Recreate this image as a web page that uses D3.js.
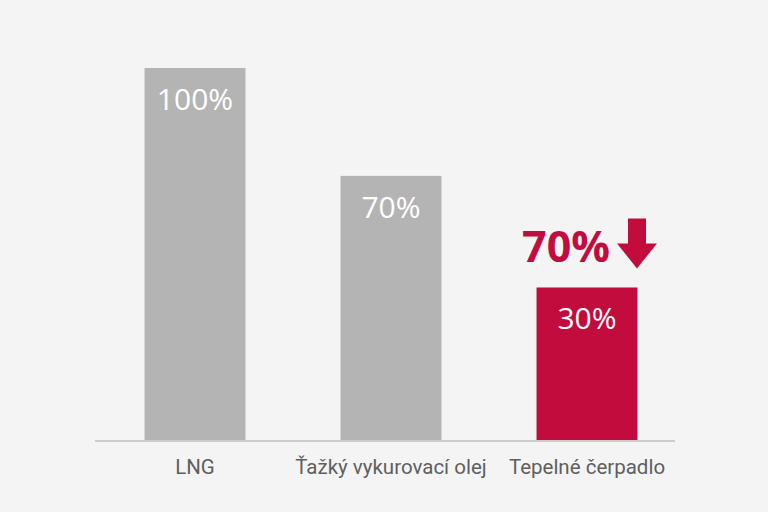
<!DOCTYPE html>
<html>
<head>
<meta charset="utf-8">
<script src="https://cdn.jsdelivr.net/npm/d3@7"></script>
<style>
  html, body { margin: 0; padding: 0; background: #f4f4f4; }
  svg { display: block; }
</style>
</head>
<body>
<svg></svg>
<script>
// categories, bar heights as drawn in the picture (not to scale with the labels), and labels
var categories = ["LNG", "Ťažký vykurovací olej", "Tepelné čerpadlo"];
var barHeights = [100, 71, 41];
var valueLabels = ["100%", "70%", "30%"];
var highlight = [false, false, true];
var savingLabel = "70%";

var width = 768, height = 512;

var svg = d3.select("svg")
  .attr("width", width)
  .attr("height", height);

svg.append("rect")
  .attr("width", width)
  .attr("height", height)
  .attr("fill", "#f4f4f4");

var x = d3.scaleBand()
  .domain(categories)
  .range([97, 685])
  .paddingInner(0.485)
  .paddingOuter(0.2425);

var y = d3.scaleLinear()
  .domain([0, 100])
  .range([440, 68]);

var grey = "#b5b4b4", red = "#c20c3d";

// bars
svg.selectAll(".bar")
    .data(categories)
  .enter().append("rect")
    .attr("class", "bar")
    .attr("x", function(d) { return x(d); })
    .attr("width", x.bandwidth())
    .attr("y", function(d, i) { return y(barHeights[i]); })
    .attr("height", function(d, i) { return y(0) - y(barHeights[i]); })
    .attr("fill", function(d, i) { return highlight[i] ? red : grey; });

// value labels inside the bars
svg.selectAll(".val")
    .data(categories)
  .enter().append("text")
    .attr("class", "val")
    .attr("x", function(d) { return x(d) + x.bandwidth() / 2; })
    .attr("y", function(d, i) { return y(barHeights[i]) + 42; })
    .attr("text-anchor", "middle")
    .attr("fill", "#fff")
    .style("font-family", "'Open Sans', sans-serif")
    .style("font-size", "30px")
    .text(function(d, i) { return valueLabels[i]; });

// baseline
svg.append("line")
  .attr("x1", 95).attr("x2", 675)
  .attr("y1", y(0) + 1).attr("y2", y(0) + 1)
  .attr("stroke", "#cccccc")
  .attr("stroke-width", 2);

// category labels
svg.selectAll(".cat")
    .data(categories)
  .enter().append("text")
    .attr("class", "cat")
    .attr("x", function(d) { return x(d) + x.bandwidth() / 2; })
    .attr("y", 474)
    .attr("text-anchor", "middle")
    .attr("fill", "#5f5f5f")
    .style("font-family", "Roboto, sans-serif")
    .style("font-size", "20.5px")
    .text(function(d) { return d; });

// saving annotation above the highlighted bar
var hiCat = categories[2];
var hiTop = y(barHeights[2]);
var cx = x(hiCat) + x.bandwidth() / 2;

svg.append("text")
  .attr("x", cx + 23)
  .attr("y", hiTop - 25)
  .attr("text-anchor", "end")
  .attr("fill", red)
  .style("font-family", "'Open Sans', sans-serif")
  .style("font-weight", "bold")
  .style("font-size", "43px")
  .text(savingLabel);

// down arrow
var ax = cx + 50, at = hiTop - 69;
svg.append("path")
  .attr("d", "M" + (ax - 9) + "," + at +
             "H" + (ax + 9) + "V" + (at + 25) +
             "H" + (ax + 20) + "L" + ax + "," + (at + 50) +
             "L" + (ax - 20) + "," + (at + 25) +
             "H" + (ax - 9) + "Z")
  .attr("fill", red);
</script>
</body>
</html>
